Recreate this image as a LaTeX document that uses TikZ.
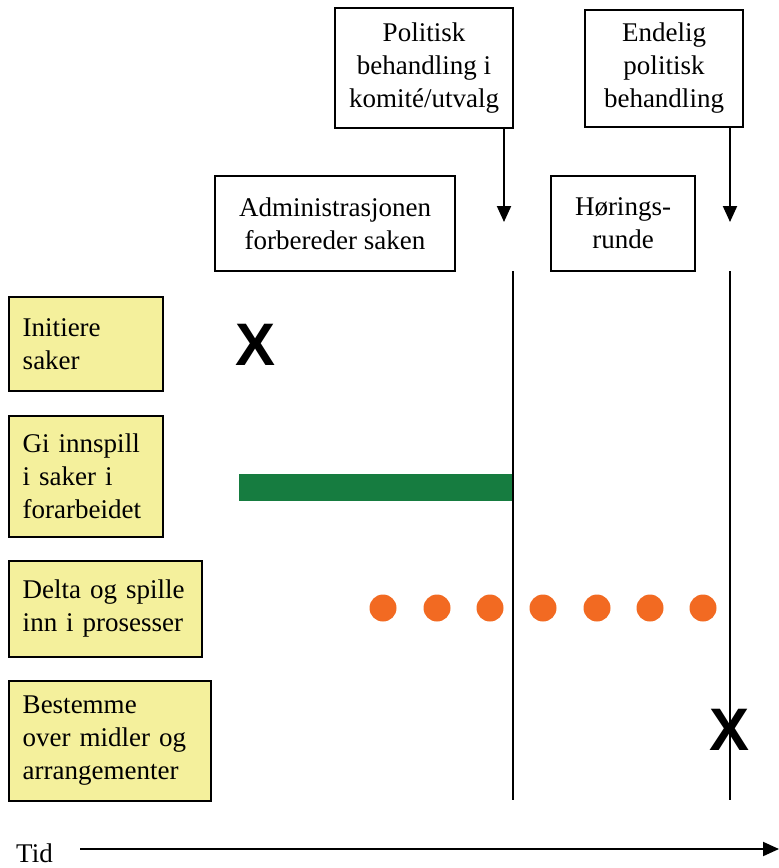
\documentclass[tikz,border=0pt]{standalone}
\usepackage{fontspec}
\setmainfont{Liberation Serif}
\newfontfamily\crossfont{Liberation Sans}
\usetikzlibrary{arrows.meta}
\definecolor{roleyellow}{HTML}{F4F09C}
\definecolor{bargreen}{HTML}{167C40}
\definecolor{dotorange}{HTML}{F26A22}

\begin{document}
\begin{tikzpicture}[x=1pt,y=-1pt,>={Triangle[width=14pt,length=16pt]},
  stagebox/.style={draw,line width=1.5pt,rectangle,align=center,inner sep=0pt,font=\fontsize{27}{33}\selectfont},
  rolebox/.style={draw,line width=1.5pt,rectangle,fill=roleyellow,align=left,inner xsep=14pt,inner ysep=0pt,anchor=north west,font=\fontsize{27}{33}\selectfont},
  cross/.style={font=\crossfont\bfseries\fontsize{60}{60}\selectfont,inner sep=0pt},
  dotnode/.style={circle,fill=dotorange,minimum size=27pt,inner sep=0pt}]
\useasboundingbox (0,0) rectangle (779,868);
% stages along the time line
\node[stagebox,minimum width=178pt,minimum height=120pt] (pol) at (424,68) {Politisk\\behandling i\\komité/utvalg};
\node[stagebox,minimum width=158pt,minimum height=117pt] (end) at (664,68.5) {Endelig\\politisk\\behandling};
\node[stagebox,minimum width=240pt,minimum height=95pt] (adm) at (335,223.5) {Administrasjonen\\forbereder saken};
\node[stagebox,minimum width=144pt,minimum height=95pt] (hor) at (623,223.5) {Hørings-\\runde};

% roles
\node[rolebox,text width=126pt,minimum height=94pt] (r1) at (8,296) {Initiere\\saker};
\node[rolebox,text width=126pt,minimum height=121pt] (r2) at (8,415) {Gi innspill\\i saker i\\forarbeidet};
\node[rolebox,text width=165pt,minimum height=96pt] (r3) at (8,560) {Delta og spille\\inn i prosesser};
\node[rolebox,text width=174pt,minimum height=120pt] (r4) at (8,680) {Bestemme\\over midler og\\arrangementer};

% arrows down from the political stages
\coordinate (a1) at (504,222);
\coordinate (a2) at (730,222);
\draw[->,line width=2pt] (pol.south -| a1) -- (a1);
\draw[->,line width=2pt] (end.south -| a2) -- (a2);

% decision lines
\coordinate (v1top) at (513,271);
\coordinate (v1bot) at (513,800);
\coordinate (v2top) at (730,271);
\coordinate (v2bot) at (730,800);

% green bar behind the first line
\coordinate (g1) at (239,474);
\coordinate (g2) at (513,501);
\fill[bargreen] (g1) rectangle (g2);
\draw[line width=2pt] (v1top) -- (v1bot);
\draw[line width=2pt] (v2top) -- (v2bot);

% dots for taking part in the processes
\foreach \i/\x in {1/383,2/437,3/490,4/543,5/597,6/650,7/703}
  \node[dotnode] (d\i) at (\x,608) {};

% crosses
\node[cross] (x1) at (256,345) {X};
\node[cross] (x2) at (730,730) {X};

% time axis
\node[font=\fontsize{27}{33}\selectfont,anchor=base west,inner sep=0pt] (tid) at (16,862) {Tid};
\coordinate (t1) at (80,849);
\coordinate (t2) at (779,849);
\draw[->,line width=2pt] (t1) -- (t2);
\end{tikzpicture}
\end{document}
